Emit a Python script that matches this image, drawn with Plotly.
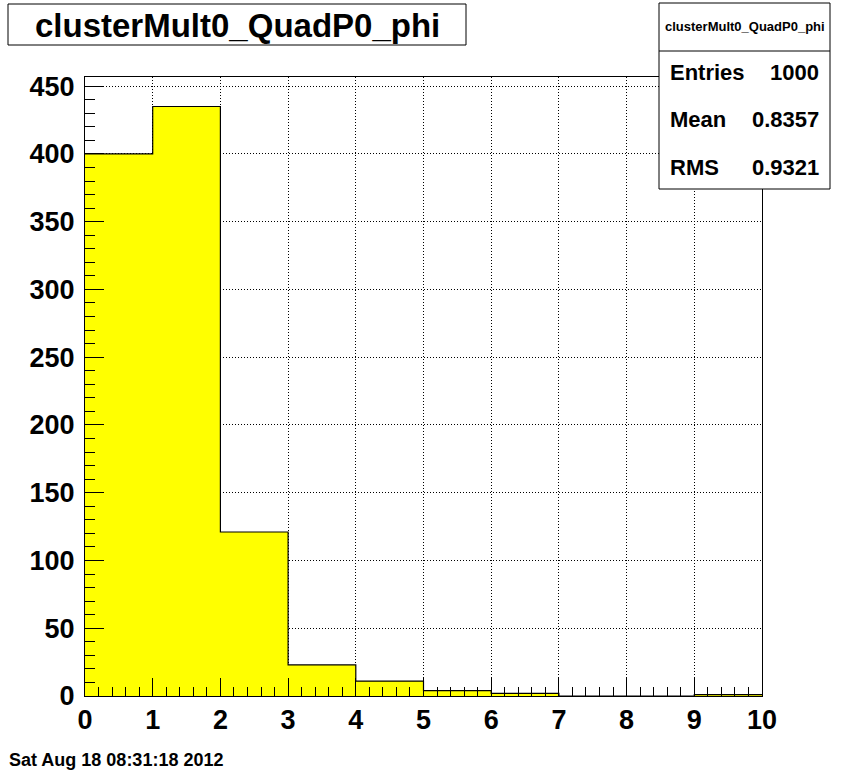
import plotly.graph_objects as go

# ---- data ----
bin_edges = [0, 1, 2, 3, 4, 5, 6, 7, 8, 9, 10]
counts = [400, 435, 121, 23, 11, 4, 2, 0, 0, 1]
y_ticks = [0, 50, 100, 150, 200, 250, 300, 350, 400, 450]
x_ticks = [0, 1, 2, 3, 4, 5, 6, 7, 8, 9, 10]
title_text = "clusterMult0_QuadP0_phi"
stats_labels = ["Entries", "Mean", "RMS"]
stats_values = ["1000", "0.8357", "0.9321"]
date_text = "Sat Aug 18 08:31:18 2012"

W, H = 846, 774
L, R, T, B = 85, 762, 77, 696
FONT = "Liberation Sans"

def px(xp):
    return (xp - L) / (R - L)

def py(yp):
    return (B - yp) / (B - T)

centers = [(bin_edges[i] + bin_edges[i + 1]) / 2 for i in range(len(counts))]
widths = [bin_edges[i + 1] - bin_edges[i] for i in range(len(counts))]

fig = go.Figure()
fig.add_trace(go.Bar(x=centers, y=counts, width=widths,
                     marker=dict(color="#ffff00", line=dict(width=0)),
                     hoverinfo="skip"))
fig.add_trace(go.Scatter(x=bin_edges, y=counts + [counts[-1]], mode="lines",
                         line=dict(shape="hv", color="black", width=1.2),
                         hoverinfo="skip"))

ymax = max(counts) * 1.05

fig.update_layout(
    width=W, height=H,
    margin=dict(l=L, r=W - R, t=T, b=H - B),
    paper_bgcolor="white", plot_bgcolor="white",
    showlegend=False, bargap=0,
    font=dict(family=FONT, color="black"),
    xaxis=dict(range=[0, 10], tickvals=x_ticks,
               ticktext=[f"<b>{v}</b>" for v in x_ticks],
               ticks="inside", ticklen=18, tickwidth=1, tickcolor="black",
               minor=dict(ticks="inside", ticklen=9, dtick=0.2, tick0=0,
                          tickcolor="black", showgrid=False),
               showline=True, linecolor="black", linewidth=1, mirror=True,
               showgrid=True, gridcolor="black", griddash="1px,2px", gridwidth=1,
               zeroline=False, tickfont=dict(size=27, family=FONT),
               ticklabelstandoff=0),
    yaxis=dict(range=[0, ymax], tickvals=y_ticks,
               ticktext=[f"<b>{v}</b>" for v in y_ticks],
               ticks="inside", ticklen=19, tickwidth=1, tickcolor="black",
               minor=dict(ticks="inside", ticklen=10, dtick=10, tick0=0,
                          tickcolor="black", showgrid=False),
               showline=True, linecolor="black", linewidth=1, mirror=True,
               showgrid=True, gridcolor="black", griddash="1px,2px", gridwidth=1,
               zeroline=False, tickfont=dict(size=27, family=FONT),
               ticklabelstandoff=4),
)

shapes = []
# title box
shapes.append(dict(type="rect", xref="paper", yref="paper",
                   x0=px(8), x1=px(466), y0=py(45), y1=py(4),
                   line=dict(color="black", width=1), fillcolor="white", layer="above"))
# stats box
shapes.append(dict(type="rect", xref="paper", yref="paper",
                   x0=px(659), x1=px(830), y0=py(189), y1=py(3),
                   line=dict(color="black", width=1), fillcolor="white", layer="above"))
shapes.append(dict(type="line", xref="paper", yref="paper",
                   x0=px(659), x1=px(830), y0=py(51), y1=py(51),
                   line=dict(color="black", width=1), layer="above"))
fig.update_layout(shapes=shapes)

ann = []
ann.append(dict(text=f"<b>{title_text}</b>", x=px(237), y=py(25), xref="paper", yref="paper",
                showarrow=False, xanchor="center", yanchor="middle",
                font=dict(size=33, family=FONT, color="black")))
ann.append(dict(text=f"<b>{title_text}</b>", x=px(744.5), y=py(27), xref="paper", yref="paper",
                showarrow=False, xanchor="center", yanchor="middle",
                font=dict(size=13, family=FONT, color="black")))
rows_y = [73, 120, 167]
for lab, val, yy in zip(stats_labels, stats_values, rows_y):
    ann.append(dict(text=f"<b>{lab}</b>", x=px(668), y=py(yy), xref="paper", yref="paper",
                    showarrow=False, xanchor="left", yanchor="middle",
                    font=dict(size=22, family=FONT, color="black")))
    ann.append(dict(text=f"<b>{val}</b>", x=px(821), y=py(yy), xref="paper", yref="paper",
                    showarrow=False, xanchor="right", yanchor="middle",
                    font=dict(size=22, family=FONT, color="black")))
ann.append(dict(text=f"<b>{date_text}</b>", x=px(7), y=py(760), xref="paper", yref="paper",
                showarrow=False, xanchor="left", yanchor="middle",
                font=dict(size=18, family=FONT, color="black")))
fig.update_layout(annotations=ann)

fig.write_html("out.html", config={"displayModeBar": False},
               post_script="document.body.style.margin='0';document.body.style.overflow='hidden';")
